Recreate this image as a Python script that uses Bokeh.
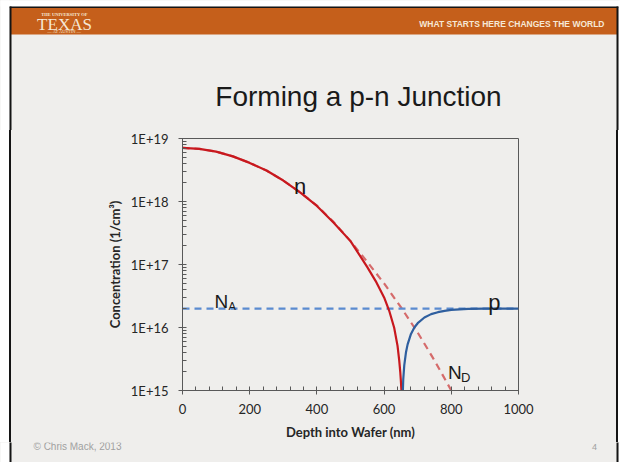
from bokeh.plotting import figure
from bokeh.layouts import column, row
from bokeh.models import (Range1d, FixedTicker, CustomJSTickFormatter, Label,
                          Div)
from bokeh.core.properties import value
from bokeh.embed import file_html
from bokeh.resources import INLINE

# ---- data ----
depth_n = [0, 50, 100, 150, 200, 250, 300, 350, 400, 450, 500, 550, 575,
           600, 615, 630, 640, 645, 648, 650, 651.5, 652.5]
n_conc = [7.1e18, 6.85e18, 6.2e18, 5.2e18, 4.1e18, 3.1e18, 2.15e18, 1.4e18,
          8.5e17, 4.6e17, 2.35e17, 9.1e16, 5.45e16, 3.0e16, 1.86e16, 9.9e15,
          5.1e15, 3.0e15, 2.0e15, 1.4e15, 1.0e15, 5e14]

depth_nd = [0, 50, 100, 150, 200, 250, 300, 350, 400, 450, 500, 550, 600,
            650, 700, 750, 800]
nd_conc = [7.1e18, 6.85e18, 6.2e18, 5.2e18, 4.1e18, 3.1e18, 2.15e18, 1.4e18,
           8.6e17, 4.7e17, 2.35e17, 1.1e17, 5.0e16, 2.1e16, 8.3e15, 3.0e15,
           1.0e15]

depth_p = [652, 654, 657, 660, 665, 670, 680, 690, 700, 720, 740, 760, 780,
           800, 850, 900, 1000]
p_conc = [1e14, 5e14, 1.5e15, 2.5e15, 4.0e15, 5.4e15, 7.9e15, 1.0e16,
          1.17e16, 1.44e16, 1.63e16, 1.75e16, 1.84e16, 1.9e16, 1.97e16,
          1.99e16, 2.0e16]

depth_na = [0, 1000]
na_conc = [2e16, 2e16]

x_ticks = [0, 200, 400, 600, 800, 1000]
y_ticks = [1e15, 1e16, 1e17, 1e18, 1e19]

title_text = "Forming a p-n Junction"
x_title = "Depth into Wafer (nm)"
y_title = "Concentration (1/cm³)"
footer_text = "\u00a9 Chris Mack, 2013"
page_number = "4"

# ---- styles ----
BG = "#efeeec"
AX = "#595959"
ORANGE = "#c55f1b"
CREAM = "#f6e8d6"
EDGE = "#141414"
DARK = "#1a1a1a"
SANS = "Liberation Sans"
SERIF = "Liberation Serif"


def deco(w, h):
    f = figure(width=w, height=h, x_range=Range1d(0, w), y_range=Range1d(h, 0),
               x_axis_type=None, y_axis_type=None, output_backend="svg",
               toolbar_location=None, min_border=0)
    f.outline_line_color = None
    f.background_fill_color = BG
    f.border_fill_color = BG
    return f


def txt(f, x, y, s, size, color, font=SANS, align="center",
        baseline="middle", style="normal"):
    f.text(x=[x], y=[y], text=[s], text_font=value(font),
           text_font_size=size, text_color=color, text_align=align,
           text_baseline=baseline, text_font_style=style)


def sides(f, top, bottom):
    # white page margins and the dark slide edges
    f.quad(left=[-2, 618], right=[9, 622], top=[-2, -2], bottom=[bottom + 2] * 2,
           fill_color="white", line_color=None)
    f.quad(left=[9, 616], right=[11, 618], top=[top, top],
           bottom=[bottom + 2] * 2, fill_color=EDGE, line_color=None)


# ---- header (banner + title) ----
hdr = deco(620, 130)
hdr.quad(left=[-2], right=[622], top=[-2], bottom=[6], fill_color="white",
         line_color=None)
hdr.quad(left=[10], right=[617], top=[7], bottom=[34], fill_color=ORANGE,
         line_color=None)
hdr.quad(left=[9], right=[618], top=[6], bottom=[7.5], fill_color=EDGE,
         line_color=None)
sides(hdr, 6, 130)
txt(hdr, 64, 13.5, "THE UNIVERSITY OF", "4.5px", CREAM, font=SERIF,
    style="bold")
txt(hdr, 64, 23.5, "TEXAS", "17px", CREAM, font=SERIF)
txt(hdr, 64, 31, "\u2014 AT AUSTIN \u2014", "4.5px", CREAM, font=SERIF)
txt(hdr, 604, 23.5, "WHAT STARTS HERE CHANGES THE WORLD", "8.5px", CREAM,
    align="right", style="bold")
txt(hdr, 358, 96, title_text, "28px", DARK)


def strip(w, color):
    return Div(text="", width=w, height=312, margin=0,
               styles={"background-color": color})


# ---- chart ----
p = figure(width=605, height=312,
           x_range=Range1d(0, 1000), y_range=Range1d(1e15, 1e19),
           y_axis_type="log", output_backend="svg", toolbar_location=None,
           min_border_left=171, min_border_right=98,
           min_border_top=8, min_border_bottom=52)
p.background_fill_color = BG
p.border_fill_color = BG
p.outline_line_color = AX
p.outline_line_width = 1
p.grid.visible = False

xa = p.xaxis[0]
ya = p.yaxis[0]
xa.ticker = FixedTicker(ticks=x_ticks,
                        minor_ticks=[t for t in range(40, 1000, 40) if t % 200])
ya.ticker = FixedTicker(ticks=y_ticks,
                        minor_ticks=[k * 10.0 ** e for e in range(15, 19)
                                     for k in range(2, 10)])
ya.formatter = CustomJSTickFormatter(
    code="return '1E+' + Math.round(Math.log10(tick));")
xa.axis_label = x_title
ya.axis_label = y_title

for ax in (xa, ya):
    ax.axis_line_color = AX
    ax.major_tick_line_color = AX
    ax.minor_tick_line_color = AX
    ax.major_tick_in = 4
    ax.major_tick_out = 4
    ax.minor_tick_in = 4
    ax.minor_tick_out = 0
    ax.major_label_text_font = "Lato"
    ax.major_label_text_font_size = "13px"
    ax.major_label_text_color = "#262626"
    ax.axis_label_text_font = "Lato"
    ax.axis_label_text_font_style = "bold"
    ax.axis_label_text_font_size = "13px"
    ax.axis_label_text_color = "#262626"
xa.major_label_standoff = 9
ya.major_label_standoff = 10
xa.axis_label_standoff = 7
ya.axis_label_standoff = 5

p.line(depth_nd, nd_conc, line_color="#d56b6b", line_width=2.2, line_dash="7 5")
p.line(depth_na, na_conc, line_color="#5b8bd0", line_width=2.2, line_dash="7 5")
p.line(depth_n, n_conc, line_color="#c8181e", line_width=2.2)
p.line(depth_p, p_conc, line_color="#2f5f9f", line_width=2.2)


def dlabel(x, y, s, size, align="left"):
    p.add_layout(Label(x=x, y=y, text=s, text_align=align,
                       text_baseline="alphabetic", text_font=SANS,
                       text_font_size=size, text_color=DARK))


dlabel(350, 1.76e18, "n", "22px", align="center")
dlabel(928, 2.5e16, "p", "22px", align="center")
dlabel(95, 2.63e16, "N", "19px")
dlabel(137, 2.16e16, "A", "11px")
dlabel(790, 1.9e15, "N", "19px")
dlabel(829, 1.62e15, "D", "13px")

# ---- footer ----
ftr = deco(620, 20)
sides(ftr, -2, 20)
txt(ftr, 33, 4, footer_text, "10px", "#a0a0a0", align="left")
txt(ftr, 594, 4.5, page_number, "9px", "#a0a0a0")

middle = row(strip(9, "white"), strip(2, EDGE), p, strip(2, EDGE),
             strip(2, "white"), spacing=0, styles={"background-color": BG})
layout = column(hdr, middle, ftr, spacing=0,
                styles={"background-color": BG})
open("out.html", "w").write(file_html(layout, INLINE))
